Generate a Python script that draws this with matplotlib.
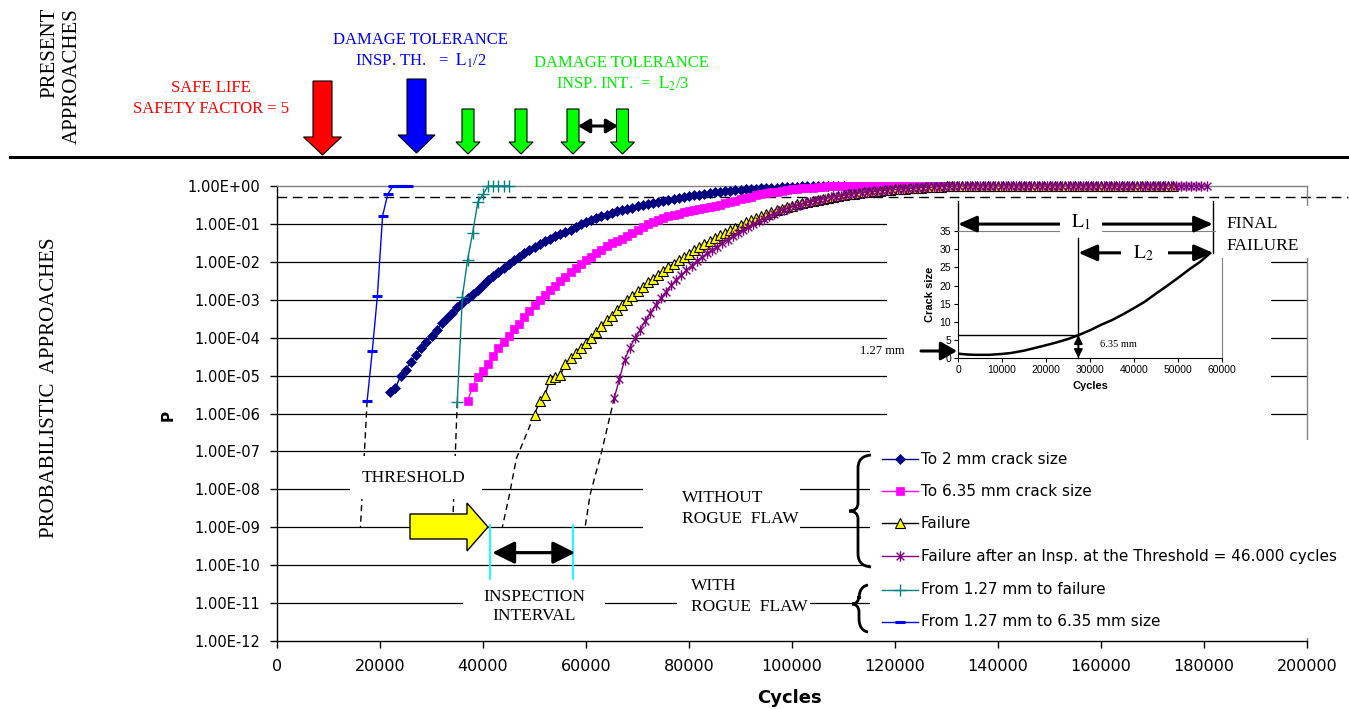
import numpy as np
import matplotlib
matplotlib.use("Agg")
import matplotlib.pyplot as plt
from matplotlib.path import Path
from matplotlib.patches import Polygon, Rectangle, FancyArrowPatch, PathPatch
from matplotlib.lines import Line2D
from matplotlib.transforms import Affine2D
from matplotlib.ticker import FuncFormatter, NullLocator

plt.rcParams['mathtext.fontset'] = 'stix'
plt.rcParams['font.family'] = ['DejaVu Sans']
SERIF = ['Liberation Serif', 'DejaVu Serif']
SANS = ['Liberation Sans', 'DejaVu Sans']

# ------------------------------------------------------------------ DATA
# main chart: cycles in thousands, probability as log10(P)
navy_kcyc = list(range(22, 111))
navy_logp = [-5.42, -5.33, -5.01, -4.84, -4.64, -4.45, -4.28, -4.12, -3.96, -3.80,
             -3.61, -3.48, -3.34, -3.20, -3.09, -2.96, -2.85, -2.74, -2.60, -2.48,
             -2.37, -2.26, -2.17, -2.06, -1.96, -1.86, -1.77, -1.69, -1.61, -1.54,
             -1.46, -1.39, -1.33, -1.27, -1.21, -1.15, -1.08, -1.01, -0.96, -0.90,
             -0.85, -0.80, -0.76, -0.71, -0.67, -0.64, -0.60, -0.57, -0.54, -0.50,
             -0.47, -0.44, -0.41, -0.39, -0.36, -0.34, -0.31, -0.29, -0.27, -0.25,
             -0.23, -0.21, -0.19, -0.17, -0.155, -0.14, -0.125, -0.11, -0.10, -0.09,
             -0.08, -0.07, -0.06, -0.05, -0.045, -0.04, -0.03, -0.025, -0.02, -0.015,
             -0.01, -0.005, 0, 0, 0, 0, 0, 0, 0]

pink_kcyc = list(range(37, 131))
pink_logp = [-5.67, -5.29, -5.03, -4.88, -4.70, -4.48, -4.26, -4.11, -3.95, -3.78,
             -3.63, -3.45, -3.30, -3.15, -3.01, -2.88, -2.73, -2.63, -2.50, -2.39,
             -2.27, -2.15, -2.05, -1.95, -1.86, -1.77, -1.68, -1.59, -1.51, -1.45,
             -1.39, -1.31, -1.24, -1.15, -1.07, -1.00, -0.94, -0.89, -0.85, -0.80,
             -0.76, -0.73, -0.69, -0.66, -0.63, -0.60, -0.57, -0.55, -0.52, -0.49,
             -0.46, -0.43, -0.39, -0.35, -0.32, -0.28, -0.25, -0.22, -0.19, -0.17,
             -0.15, -0.13, -0.11, -0.09, -0.07, -0.06, -0.05, -0.04, -0.03, -0.02,
             -0.01, -0.005, 0, 0, 0, 0, 0, 0, 0, 0,
             0, 0, 0, 0, 0, 0, 0, 0, 0, 0,
             0, 0, 0, 0]

yellow_kcyc = list(range(50, 175))
yellow_logp = [-6.03, -5.67, -5.52, -5.10, -5.03, -4.99, -4.70, -4.54, -4.40, -4.26,
               -4.13, -4.00, -3.85, -3.70, -3.54, -3.42, -3.28, -3.15, -3.01, -2.89,
               -2.78, -2.66, -2.54, -2.44, -2.34, -2.23, -2.14, -2.05, -1.96, -1.87,
               -1.79, -1.70, -1.61, -1.53, -1.45, -1.37, -1.30, -1.24, -1.17, -1.10,
               -1.03, -0.96, -0.90, -0.84, -0.79, -0.74, -0.69, -0.64, -0.60, -0.56,
               -0.52, -0.48, -0.45, -0.42, -0.39, -0.36, -0.33, -0.31, -0.28, -0.26,
               -0.24, -0.22, -0.20, -0.18, -0.17, -0.15, -0.14, -0.13, -0.11, -0.10,
               -0.09, -0.08, -0.07, -0.06, -0.05, -0.04, -0.035, -0.03, -0.02, -0.015,
               -0.01, -0.005, 0, 0, 0, 0, 0, 0, 0, 0,
               0, 0, 0, 0, 0, 0, 0, 0, 0, 0,
               0, 0, 0, 0, 0, 0, 0, 0, 0, 0,
               0, 0, 0, 0, 0, 0, 0, 0, 0, 0,
               0, 0, 0, 0, 0]

purple_kcyc = [k + 0.5 for k in range(65, 181)]
purple_logp = [-5.58, -5.09, -4.58, -4.27, -4.01, -3.79, -3.56, -3.35, -3.14, -2.96,
               -2.79, -2.62, -2.47, -2.34, -2.22, -2.10, -1.98, -1.88, -1.78, -1.69,
               -1.60, -1.51, -1.42, -1.33, -1.24, -1.16, -1.08, -1.00, -0.93, -0.86,
               -0.79, -0.73, -0.67, -0.62, -0.57, -0.53, -0.49, -0.45, -0.42, -0.39,
               -0.36, -0.33, -0.30, -0.28, -0.26, -0.24, -0.22, -0.20, -0.18, -0.165,
               -0.15, -0.135, -0.12, -0.11, -0.10, -0.09, -0.08, -0.07, -0.06, -0.05,
               -0.04, -0.035, -0.03, -0.02, -0.015, -0.01, -0.005, 0, 0, 0,
               0, 0, 0, 0, 0, 0, 0, 0, 0, 0,
               0, 0, 0, 0, 0, 0, 0, 0, 0, 0,
               0, 0, 0, 0, 0, 0, 0, 0, 0, 0,
               0, 0, 0, 0, 0, 0, 0, 0, 0, 0,
               0, 0, 0, 0, 0, 0]

teal_kcyc = [35, 36, 37, 38, 39, 40, 41, 42, 43, 44, 45]
teal_logp = [-5.69, -2.92, -1.95, -1.23, -0.42, -0.22, 0, 0, 0, 0, 0]

blue_kcyc = [17.5, 18.5, 19.5, 20.5, 21.5, 22.5, 23.5, 24.5, 25.5]
blue_logp = [-5.67, -4.35, -2.89, -0.79, -0.22, 0, 0, 0, 0]

# dashed extrapolations down to 1e-9
ext_blue_kcyc, ext_blue_logp = [17.5, 16.2], [-5.67, -9.0]
ext_teal_kcyc, ext_teal_logp = [35.0, 34.1], [-5.69, -9.0]
ext_yellow_kcyc, ext_yellow_logp = [50.0, 46.5, 45.1, 43.75], [-6.03, -7.18, -8.16, -9.0]
ext_purple_kcyc, ext_purple_logp = [65.5, 63.05, 60.8, 59.8], [-5.58, -7.0, -8.14, -9.02]

p_half = 0.5
insp_kcyc = [41.4, 57.5]
insp_logp_span = [-8.93, -10.36]
insp_arrow_logp = -9.67

# inset: crack size (mm) vs cycles
inset_cycles = [0, 2000, 4000, 7000, 10000, 12000, 15000, 17000, 20000, 22500, 25000, 27350,
                30000, 32500, 35000, 37500, 40000, 42500, 45000, 47500, 50000, 52500, 55000, 57300]
inset_crack = [1.27, 1.05, 0.95, 0.95, 1.2, 1.45, 2.1, 2.7, 3.6, 4.4, 5.3, 6.35,
               7.7, 9.2, 10.5, 12.1, 13.8, 15.6, 17.8, 19.9, 22.1, 24.4, 26.5, 28.9]
inset_thr_cycles = 27350
inset_thr_size = 6.35
inset_final_cycles = 57950

labels = ["To 2 mm crack size", "To 6.35 mm crack size", "Failure",
          "Failure after an Insp. at the Threshold = 46.000 cycles",
          "From 1.27 mm to failure", "From 1.27 mm to 6.35 mm size"]

# ------------------------------------------------------------------ FIGURE
W, H = 1349, 709
fig = plt.figure(figsize=(W / 100, H / 100), dpi=100)
px = Affine2D().scale(1.0 / W, -1.0 / H).translate(0, 1) + fig.transFigure


def fbox(l, t, r, b):
    return [l / W, 1 - b / H, (r - l) / W, (b - t) / H]


def series(kcyc, logp):
    return np.asarray(kcyc, float) * 1000.0, 10.0 ** np.asarray(logp, float)


def ftext(x, y, s, **kw):
    kw.setdefault('transform', px)
    kw.setdefault('zorder', 3)
    return fig.text(x, y, s, **kw)


def wrect(l, t, r, b, z=1):
    fig.add_artist(Rectangle((l, t), r - l, b - t, transform=px, facecolor='white',
                             edgecolor='none', zorder=z))


ast = Path([(-1, -1), (1, 1), (-1, 1), (1, -1), (0, -1.35), (0, 1.35)],
           [Path.MOVETO, Path.LINETO] * 3)

st_navy = dict(color='#000080', lw=1, marker='D', ms=5.5, mfc='#000080', mec='#000080', mew=0.5)
st_pink = dict(color='#FF00FF', lw=1, marker='s', ms=6.2, mfc='#FF00FF', mec='#FF00FF', mew=0.5)
st_yell = dict(color='black', lw=1, marker='^', ms=7, mfc='#FFFF00', mec='black', mew=0.8)
st_purp = dict(color='#800080', lw=1, marker=ast, ms=7.5, mec='#800080', mew=1)
st_teal = dict(color='#008080', lw=1, marker='+', ms=9, mec='#008080', mew=1)
st_blue = dict(color='#0000FF', lw=1, marker='_', ms=7, mec='#0000FF', mew=2.2)

# ---- main axes
ax = fig.add_axes(fbox(277, 186, 1307, 641), zorder=0)
ax.set_yscale('log')
ax.set_xlim(0, 200000)
ax.set_ylim(1e-12, 1)
ax.set_xticks(range(0, 200001, 20000))
ax.set_yticks([10.0 ** e for e in range(-12, 1)])
ax.yaxis.set_minor_locator(NullLocator())
ax.yaxis.set_major_formatter(FuncFormatter(lambda v, p: f"{v:.2E}"))
ax.tick_params(axis='both', direction='out', length=5, width=1, colors='black')
ax.tick_params(axis='y', labelsize=10.5, pad=7)
ax.tick_params(axis='x', labelsize=11.5, pad=8)
for s in ('left', 'bottom'):
    ax.spines[s].set_color('black')
    ax.spines[s].set_linewidth(1)
for s in ('top', 'right'):
    ax.spines[s].set_color('#808080')
    ax.spines[s].set_linewidth(1)
for e in range(-11, 0):
    ax.axhline(10.0 ** e, color='black', lw=0.9, zorder=1)

ax.plot([0, 208000], [p_half, p_half], color='black', lw=1, ls=(0, (7, 4)),
        clip_on=False, zorder=2)

for kc, lp in ((ext_blue_kcyc, ext_blue_logp), (ext_teal_kcyc, ext_teal_logp),
               (ext_yellow_kcyc, ext_yellow_logp), (ext_purple_kcyc, ext_purple_logp)):
    x, y = series(kc, lp)
    ax.plot(x, y, color='black', lw=1, ls=(0, (4.5, 3)), zorder=2)

for kc, lp, st in ((navy_kcyc, navy_logp, st_navy), (pink_kcyc, pink_logp, st_pink),
                   (yellow_kcyc, yellow_logp, st_yell), (purple_kcyc, purple_logp, st_purp),
                   (teal_kcyc, teal_logp, st_teal), (blue_kcyc, blue_logp, st_blue)):
    x, y = series(kc, lp)
    ax.plot(x, y, clip_on=False, zorder=3, **st)

for kc in insp_kcyc:
    x, y = series([kc, kc], insp_logp_span)
    ax.plot(x, y, color='#00FFFF', lw=1.3, zorder=3)
xa, ya = series(insp_kcyc, [insp_arrow_logp, insp_arrow_logp])
ax.annotate('', xy=(xa[1] + 400, ya[1]), xytext=(xa[0] + 400, ya[0]),
            arrowprops=dict(arrowstyle='<|-|>,head_length=0.9,head_width=0.45',
                            mutation_scale=15, lw=2.3, color='black',
                            shrinkA=0, shrinkB=0), zorder=4)

# ---- white masks
wrect(887, 200, 1271, 440)
wrect(350, 456, 482, 499)
wrect(643, 482, 800, 535)
wrect(463, 584, 605, 626)
wrect(677, 577, 810, 620)
wrect(870, 440, 1349, 638)
wrect(1216, 206, 1312, 258, z=2.5)

# ---- inset
axin = fig.add_axes(fbox(958, 231, 1222, 358.3), zorder=2)
axin.plot(inset_cycles, inset_crack, color='black', lw=1.8)
axin.set_xlim(0, 60000)
axin.set_ylim(0, 35)
axin.set_xticks(range(0, 60001, 10000))
axin.set_yticks(range(0, 36, 5))
axin.tick_params(direction='out', length=3, width=0.8, labelsize=7.5, pad=2)
for lab in axin.get_xticklabels() + axin.get_yticklabels():
    lab.set_family(SANS)
axin.set_xlabel('Cycles', fontsize=8, fontweight='bold', family=SANS, labelpad=4)
axin.set_ylabel('Crack size', fontsize=8, fontweight='bold', family=SANS, labelpad=3)
for s in ('top', 'right'):
    axin.spines[s].set_color('#808080')
    axin.spines[s].set_linewidth(0.8)
axin.plot([0, inset_thr_cycles], [inset_thr_size, inset_thr_size], color='black', lw=1)
axin.plot([inset_thr_cycles, inset_thr_cycles], [0, 33.1], color='black', lw=1, clip_on=False)
axin.plot([0, 0], [35, 43.2], color='black', lw=1, clip_on=False)
axin.plot([inset_final_cycles, inset_final_cycles], [28.9, 43.2], color='black', lw=1, clip_on=False)
axin.annotate('', xy=(inset_thr_cycles, 0.1), xytext=(inset_thr_cycles, inset_thr_size),
              arrowprops=dict(arrowstyle='<|-|>,head_length=0.5,head_width=0.25',
                              mutation_scale=10, lw=1.3, color='black',
                              shrinkA=0, shrinkB=0), annotation_clip=False)
axin.annotate('', xy=(inset_final_cycles, 36.9), xytext=(0, 36.9),
              arrowprops=dict(arrowstyle='<|-|>,head_length=0.8,head_width=0.35',
                              mutation_scale=14, lw=2.2, color='black',
                              shrinkA=0, shrinkB=0), annotation_clip=False)
axin.annotate('', xy=(inset_final_cycles, 29.0), xytext=(inset_thr_cycles, 29.0),
              arrowprops=dict(arrowstyle='<|-|>,head_length=0.8,head_width=0.35',
                              mutation_scale=14, lw=2.2, color='black',
                              shrinkA=0, shrinkB=0), annotation_clip=False)
axin.text(32300, 3.9, '6.35 mm', fontsize=7.5, family=SERIF, ha='left', va='center')
wrect(1060, 213, 1102, 235, z=2.5)
wrect(1121, 244, 1168, 263, z=2.5)
ftext(1081, 222, r'$\mathrm{L}_1$', fontsize=14, ha='center', va='center')
ftext(1143, 253, r'$\mathrm{L}_2$', fontsize=14, ha='center', va='center')
ftext(1226, 224, 'FINAL', fontsize=12.5, family=SERIF, ha='left', va='center')
ftext(1226, 246, 'FAILURE', fontsize=12.5, family=SERIF, ha='left', va='center')
ftext(905, 351, '1.27 mm', fontsize=9, family=SERIF, ha='right', va='center')
fig.add_artist(FancyArrowPatch((921, 351), (957, 351), transform=px,
                               arrowstyle='-|>,head_length=0.7,head_width=0.4',
                               mutation_scale=14, lw=2.2, color='black',
                               shrinkA=0, shrinkB=0, zorder=3))

# ---- axis labels
ftext(168, 415, 'P', fontsize=11, fontweight='bold', rotation=90, ha='center', va='center')
ftext(789, 698, 'Cycles', fontsize=13, fontweight='bold', ha='center', va='center')

# ---- bottom annotations
ftext(414, 478, 'THRESHOLD', fontsize=12.5, family=SERIF, ha='center', va='center')
ftext(682, 498, 'WITHOUT', fontsize=12.5, family=SERIF, ha='left', va='center')
ftext(682, 519, 'ROGUE  FLAW', fontsize=12.5, family=SERIF, ha='left', va='center')
ftext(534, 597, 'INSPECTION', fontsize=12.5, family=SERIF, ha='center', va='center')
ftext(534, 616, 'INTERVAL', fontsize=12.5, family=SERIF, ha='center', va='center')
ftext(691, 586, 'WITH', fontsize=12.5, family=SERIF, ha='left', va='center')
ftext(691, 607, 'ROGUE  FLAW', fontsize=12.5, family=SERIF, ha='left', va='center')
fig.add_artist(Polygon([(410, 514), (467, 514), (467, 503), (488, 527), (467, 551),
                        (467, 539), (410, 539)], closed=True, transform=px,
                       facecolor='#FFFF00', edgecolor='black', lw=1, zorder=3))

# ---- legend (manual)
leg_rows = [459, 491, 523, 556, 590, 622]
for yy, st, lab in zip(leg_rows, (st_navy, st_pink, st_yell, st_purp, st_teal, st_blue), labels):
    fig.add_artist(Line2D([882, 900, 918], [yy, yy, yy], transform=px, markevery=[1],
                          zorder=4, **st))
    ftext(921, yy, lab, fontsize=11, ha='left', va='center', zorder=4)


def brace(x_tip, x_mid, x_cusp, top, bot, cusp):
    v = [(x_tip, top), (x_mid + 3, top + 1), (x_mid, top + 6), (x_mid, top + 14),
         (x_mid, cusp - 8),
         (x_mid, cusp - 3), (x_mid - 3, cusp), (x_cusp, cusp),
         (x_mid - 3, cusp), (x_mid, cusp + 3), (x_mid, cusp + 8),
         (x_mid, bot - 14),
         (x_mid, bot - 6), (x_mid + 3, bot - 1), (x_tip, bot)]
    c = [Path.MOVETO, Path.CURVE4, Path.CURVE4, Path.CURVE4, Path.LINETO,
         Path.CURVE4, Path.CURVE4, Path.CURVE4, Path.CURVE4, Path.CURVE4, Path.CURVE4,
         Path.LINETO, Path.CURVE4, Path.CURVE4, Path.CURVE4]
    fig.add_artist(PathPatch(Path(v, c), transform=px, fill=False, lw=2,
                             edgecolor='black', zorder=4))


brace(871, 858, 849, 455, 567, 511)
brace(868, 859, 852, 585, 632, 604)

# ---- top "present approaches" area
fig.add_artist(Line2D([10, 1349], [157, 157], transform=px, color='black', lw=2.2, zorder=3))
ftext(61, 8, 'PRESENT\nAPPROACHES', fontsize=15, family=SERIF, rotation=90,
      ha='center', va='top', multialignment='right')
ftext(50, 388, 'PROBABILISTIC  APPROACHES', fontsize=15, family=SERIF, rotation=90,
      ha='center', va='center')


def down_arrow(cx, top, head_y, tip, shw, hhw, color):
    verts = [(cx - shw, top), (cx + shw, top), (cx + shw, head_y), (cx + hhw, head_y),
             (cx, tip), (cx - hhw, head_y), (cx - shw, head_y)]
    fig.add_artist(Polygon(verts, closed=True, transform=px, facecolor=color,
                           edgecolor='black', lw=0.8, zorder=3))


down_arrow(322.5, 81, 137, 155, 9.5, 19, '#FF0000')
down_arrow(416.5, 79, 135, 153, 9.5, 18.5, '#0000FF')
for cx in (468, 521, 573, 622.5):
    down_arrow(cx, 109, 142, 154, 6, 12, '#00FF00')
fig.add_artist(FancyArrowPatch((578, 126), (618, 126), transform=px,
                               arrowstyle='<|-|>,head_length=0.5,head_width=0.3',
                               mutation_scale=14, lw=2.2, color='black',
                               shrinkA=0, shrinkB=0, zorder=3))

ftext(211, 88, 'SAFE LIFE', fontsize=12, family=SERIF, color='#FF0000', ha='center', va='center')
ftext(211, 109, 'SAFETY FACTOR = 5', fontsize=12, family=SERIF, color='#FF0000', ha='center', va='center')
ftext(420, 40, 'DAMAGE TOLERANCE', fontsize=12, family=SERIF, color='#0000FF', ha='center', va='center')
ftext(421, 61, r'INSP. TH.   =  $\mathrm{L}_1$/2', fontsize=12, family=SERIF, color='#0000FF',
      ha='center', va='center')
ftext(621, 63, 'DAMAGE TOLERANCE', fontsize=12, family=SERIF, color='#00EE00', ha='center', va='center')
ftext(623, 84, r'INSP. INT.  =  $\mathrm{L}_2$/3', fontsize=12, family=SERIF, color='#00EE00',
      ha='center', va='center')

fig.savefig('out.png', dpi=100)
